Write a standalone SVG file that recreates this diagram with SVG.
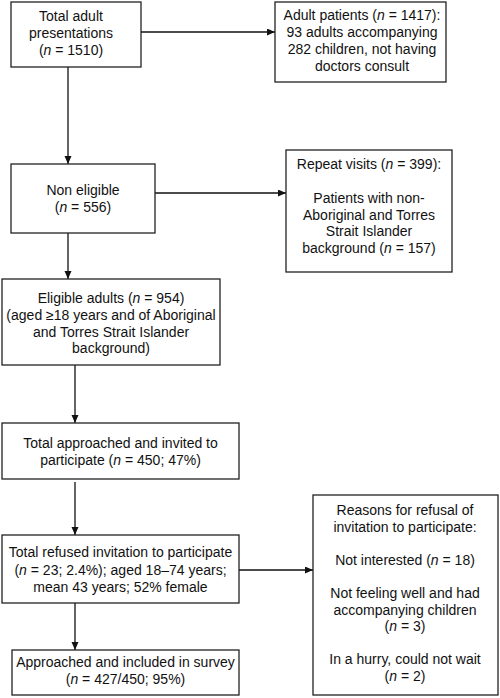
<svg xmlns="http://www.w3.org/2000/svg" width="500" height="698" viewBox="0 0 500 698">
<style>
.box{fill:#fff;stroke:#222;stroke-width:1.3}
.t{font-family:"Liberation Sans",Arial,sans-serif;font-size:14px;fill:#111;text-anchor:middle}
.i{font-style:italic}
.ln{fill:none;stroke:#111;stroke-width:1.3}
</style>
<defs>
<marker id="ah" markerUnits="userSpaceOnUse" markerWidth="9" markerHeight="8" refX="8" refY="3.5" orient="auto">
<path d="M0,0 L8,3.5 L0,7 z" fill="#111"/>
</marker>
</defs>
<rect width="500" height="698" fill="#fff"/>
<g id="connectors">
<line class="ln" x1="141" y1="32" x2="275" y2="32" marker-end="url(#ah)"/>
<line class="ln" x1="68" y1="67" x2="68" y2="164" marker-end="url(#ah)"/>
<line class="ln" x1="155" y1="193" x2="286" y2="193" marker-end="url(#ah)"/>
<line class="ln" x1="68" y1="233" x2="68" y2="279" marker-end="url(#ah)"/>
<line class="ln" x1="75" y1="365" x2="75" y2="423" marker-end="url(#ah)"/>
<line class="ln" x1="75" y1="482" x2="75" y2="535" marker-end="url(#ah)"/>
<line class="ln" x1="239" y1="570" x2="313" y2="570" marker-end="url(#ah)"/>
<line class="ln" x1="75" y1="603" x2="75" y2="650" marker-end="url(#ah)"/>
</g>
<g id="total">
<rect class="box" x="11" y="2" width="130" height="65"/>
<text class="t"><tspan x="71" y="20.5">Total adult</tspan><tspan x="71" y="37.5">presentations</tspan><tspan x="71" y="54.5">(<tspan class="i">n</tspan> = 1510)</tspan></text>
</g>
<g id="adultpatients">
<rect class="box" x="275" y="2" width="171" height="80"/>
<text class="t"><tspan x="362" y="20">Adult patients (<tspan class="i">n</tspan> = 1417):</tspan><tspan x="362" y="37">93 adults accompanying</tspan><tspan x="362" y="54">282 children, not having</tspan><tspan x="362" y="71">doctors consult</tspan></text>
</g>
<g id="noneligible">
<rect class="box" x="11" y="164" width="144" height="69"/>
<text class="t"><tspan x="83" y="195">Non eligible</tspan><tspan x="83" y="211.5">(<tspan class="i">n</tspan> = 556)</tspan></text>
</g>
<g id="repeat">
<rect class="box" x="286" y="150" width="166" height="122"/>
<text class="t"><tspan x="369" y="169">Repeat visits (<tspan class="i">n</tspan> = 399):</tspan><tspan x="369" y="203">Patients with non-</tspan><tspan x="369" y="219.5">Aboriginal and Torres</tspan><tspan x="369" y="236">Strait Islander</tspan><tspan x="369" y="252.5">background (<tspan class="i">n</tspan> = 157)</tspan></text>
</g>
<g id="eligible">
<rect class="box" x="2" y="279" width="218" height="86"/>
<text class="t"><tspan x="111" y="303">Eligible adults (<tspan class="i">n</tspan> = 954)</tspan><tspan x="111" y="320">(aged ≥18 years and of Aboriginal</tspan><tspan x="111" y="337">and Torres Strait Islander</tspan><tspan x="111" y="353">background)</tspan></text>
</g>
<g id="invited">
<rect class="box" x="2" y="423" width="237" height="56"/>
<text class="t"><tspan x="120.5" y="448">Total approached and invited to</tspan><tspan x="120.5" y="465">participate (<tspan class="i">n</tspan> = 450; 47%)</tspan></text>
</g>
<g id="refused">
<rect class="box" x="2" y="535" width="237" height="68"/>
<text class="t"><tspan x="120.5" y="557">Total refused invitation to participate</tspan><tspan x="120.5" y="574.5">(<tspan class="i">n</tspan> = 23; 2.4%); aged 18–74 years;</tspan><tspan x="120.5" y="592">mean 43 years; 52% female</tspan></text>
</g>
<g id="reasons">
<rect class="box" x="313" y="495" width="185" height="200"/>
<text class="t"><tspan x="405" y="515">Reasons for refusal of</tspan><tspan x="405" y="531.6">invitation to participate:</tspan><tspan x="405" y="564.8">Not interested (<tspan class="i">n</tspan> = 18)</tspan><tspan x="405" y="598">Not feeling well and had</tspan><tspan x="405" y="614.6">accompanying children</tspan><tspan x="405" y="631.2">(<tspan class="i">n</tspan> = 3)</tspan><tspan x="405" y="664.4">In a hurry, could not wait</tspan><tspan x="405" y="681">(<tspan class="i">n</tspan> = 2)</tspan></text>
</g>
<g id="included">
<rect class="box" x="12" y="650" width="227" height="45"/>
<text class="t"><tspan x="125.5" y="667">Approached and included in survey</tspan><tspan x="125.5" y="684">(<tspan class="i">n</tspan> = 427/450; 95%)</tspan></text>
</g>
</svg>
